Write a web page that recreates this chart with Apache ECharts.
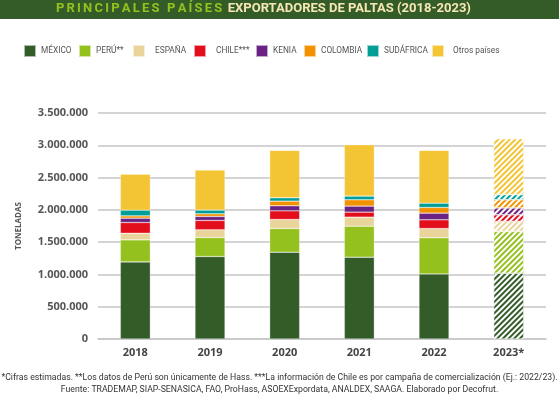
<!DOCTYPE html>
<html>
<head>
<meta charset="utf-8">
<script src="https://cdn.jsdelivr.net/npm/echarts@6/dist/echarts.min.js"></script>
<style>
  html, body { margin: 0; padding: 0; background: #fff; }
  #chart { width: 559px; height: 399px; }
</style>
</head>
<body>
<div id="chart"></div>
<script>
// years and export volumes (tonnes)
var years = ['2018', '2019', '2020', '2021', '2022', '2023*'];
var mexico    = [1194000, 1277000, 1344000, 1267000, 1008000, 1020000];
var peru      = [341000, 295000, 367000, 480000, 559000, 646000];
var espana    = [103000, 119000, 140000, 140000, 144000, 155000];
var chile     = [166000, 145000, 134000, 78000, 135000, 104000];
var kenia     = [67000, 62000, 78000, 93000, 103000, 105000];
var colombia  = [36000, 41000, 72000, 98000, 88000, 128000];
var sudafrica = [88000, 57000, 52000, 57000, 67000, 78000];
var otros     = [558000, 620000, 734000, 796000, 817000, 866000];

var yTicks = [0, 500000, 1000000, 1500000, 2000000, 2500000, 3000000, 3500000];

var names = ['MÉXICO', 'PERÚ**', 'ESPAÑA', 'CHILE***', 'KENIA', 'COLOMBIA', 'SUDÁFRICA', 'Otros países'];
var colors = ['#335c29', '#95c11f', '#e9d49b', '#e30e1c', '#6a2383', '#f39200', '#009e96', '#f3c433'];
var values = [mexico, peru, espana, chile, kenia, colombia, sudafrica, otros];

var estimatedIdx = 5; // 2023 is an estimate -> hatched

var hatch = {
  symbol: 'rect',
  symbolSize: 1,
  dashArrayX: [1, 0],
  dashArrayY: [2, 2],
  rotation: -Math.PI / 4,
  color: '#ffffff'
};

function fmt(v) {
  return String(v).replace(/\B(?=(\d{3})+(?!\d))/g, '.');
}

var series = names.map(function (n, k) {
  return {
    name: n,
    type: 'bar',
    stack: 'total',
    barWidth: 30,
    itemStyle: { color: colors[k], borderColor: 'rgba(255,255,255,0.6)', borderWidth: 0.5 },
    data: values[k].map(function (v, i) {
      if (i === estimatedIdx) return { value: v, itemStyle: { decal: hatch } };
      return v;
    })
  };
});

// legend positions (icon left x) and extra gap between icon and text
var legendX = [23, 78, 132, 193, 255, 303, 366, 431];
var legendPad = [0, 0, 5, 5, 0, 0, 0, 4];

var legends = names.map(function (n, k) {
  return {
    data: [n],
    left: legendX[k],
    top: 44,
    padding: 0,
    icon: 'rect',
    itemWidth: 12,
    itemHeight: 12,
    itemGap: 0,
    selectedMode: false,
    textStyle: { fontFamily: 'Roboto', fontSize: 8.3, color: '#555', padding: [0, 0, 0, legendPad[k]] }
  };
});

// spaced-out first half of the heading: one rich token per letter
var headA = 'PRINCIPALES PAÍSES';
var headB = 'EXPORTADORES DE PALTAS (2018-2023)';
var headText = headA.split('').map(function (c) { return '{a|' + c + '}'; }).join('') + '{b| ' + headB + '}';

var chart = echarts.init(document.getElementById('chart'), null, { renderer: 'canvas' });

chart.setOption({
  animation: false,
  backgroundColor: '#fff',
  title: {
    text: headText,
    left: 56,
    top: 2,
    padding: 0,
    textStyle: {
      rich: {
        a: { fontFamily: 'Roboto', fontWeight: 'bold', fontSize: 13, color: '#95c11f', padding: [0, 2.2, 0, 0] },
        b: { fontFamily: 'Roboto', fontWeight: 'bold', fontSize: 13, color: '#f7e7b4' }
      }
    },
    z: 10
  },
  legend: legends,
  graphic: [
    { type: 'rect', left: 0, top: 0, shape: { width: 559, height: 19 }, style: { fill: '#335c29' }, z: -1 },
    {
      type: 'text', left: 'center', top: 373,
      style: {
        text: '*Cifras estimadas. **Los datos de Perú son únicamente de Hass. ***La información de Chile es por campaña de comercialización (Ej.: 2022/23).',
        font: '8.7px Roboto', fill: '#333'
      }
    },
    {
      type: 'text', left: 'center', top: 385,
      style: {
        text: 'Fuente: TRADEMAP, SIAP-SENASICA, FAO, ProHass, ASOEXExpordata, ANALDEX, SAAGA. Elaborado por Decofrut.',
        font: '8.7px Roboto', fill: '#333'
      }
    }
  ],
  grid: { left: 98, right: 13, top: 113, bottom: 60 },
  xAxis: {
    type: 'category',
    data: years,
    axisTick: { show: false },
    axisLine: { lineStyle: { color: '#c6c6c6', width: 1.5 } },
    axisLabel: { margin: 8, fontFamily: 'Open Sans', fontWeight: 'bold', fontSize: 11, color: '#444' }
  },
  yAxis: {
    type: 'value',
    min: yTicks[0],
    max: yTicks[yTicks.length - 1],
    interval: yTicks[1] - yTicks[0],
    name: 'TONELADAS',
    nameLocation: 'middle',
    nameRotate: 90,
    nameGap: 75,
    nameTextStyle: { fontFamily: 'Open Sans', fontWeight: 'bold', fontSize: 8, color: '#555' },
    axisLine: { show: false },
    axisTick: { show: false },
    splitLine: { lineStyle: { color: '#c6c6c6', width: 1.5 } },
    axisLabel: {
      margin: 10, fontFamily: 'Open Sans', fontWeight: 'bold', fontSize: 11, color: '#555',
      formatter: function (v) { return fmt(v); }
    }
  },
  series: series
});
</script>
</body>
</html>
